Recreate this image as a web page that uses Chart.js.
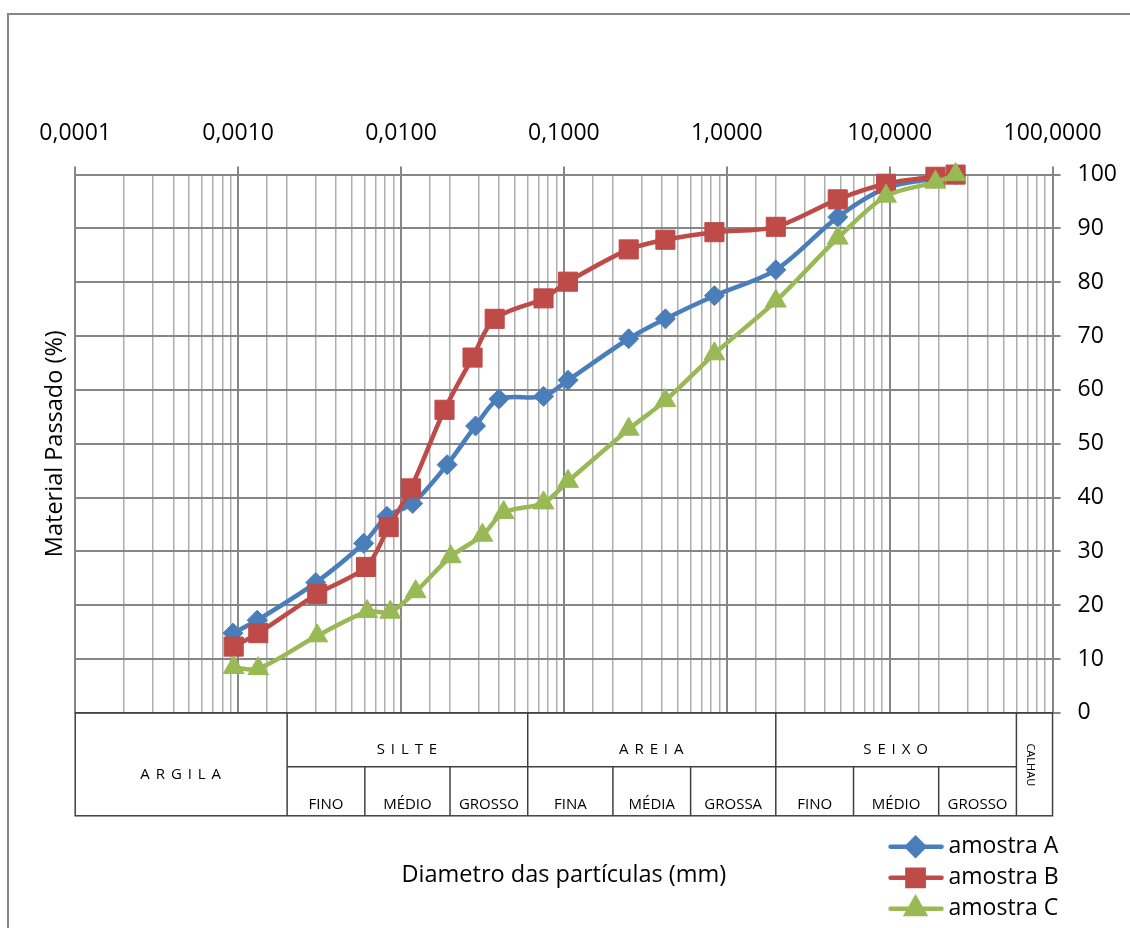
<!DOCTYPE html>
<html lang="pt">
<head>
<meta charset="UTF-8">
<title>Curva granulométrica</title>
<script src="https://cdn.jsdelivr.net/npm/chart.js@4.4.0/dist/chart.umd.min.js"></script>
<style>
    html, body { margin: 0; padding: 0; background: #fff; }
    #wrap { width: 1130px; height: 928px; }
</style>
</head>
<body>
<div id="wrap"><canvas id="granChart" width="1130" height="928"></canvas></div>
<script>
// Sieve / sedimentation diameters (mm) and % passing for each sample
const diamA = [0.00093, 0.00131, 0.0030, 0.0059, 0.0082, 0.0118, 0.0192, 0.0287, 0.0399, 0.075, 0.106, 0.25, 0.42, 0.84, 2.0, 4.8, 9.5, 19.1, 25.4];
const passA = [14.8, 17.2, 24.2, 31.5, 36.5, 38.9, 46.1, 53.3, 58.3, 58.8, 61.8, 69.5, 73.2, 77.5, 82.3, 92.1, 97.5, 99.3, 100];

const diamB = [0.00094, 0.00133, 0.00306, 0.0061, 0.0084, 0.0115, 0.0185, 0.0275, 0.0376, 0.075, 0.106, 0.25, 0.42, 0.84, 2.0, 4.8, 9.5, 19.1, 25.4];
const passB = [12.3, 14.8, 22.1, 27.1, 34.5, 41.7, 56.3, 66.0, 73.2, 77.0, 80.1, 86.1, 87.9, 89.3, 90.3, 95.4, 98.3, 99.6, 100];

const diamC = [0.00094, 0.00133, 0.00306, 0.0062, 0.0086, 0.0123, 0.0202, 0.0316, 0.0427, 0.075, 0.106, 0.25, 0.42, 0.84, 2.0, 4.8, 9.5, 19.1, 25.4];
const passC = [8.4, 8.2, 14.3, 18.8, 18.7, 22.5, 29.0, 33.0, 37.2, 39.0, 43.0, 52.7, 58.0, 66.7, 76.5, 88.2, 96.0, 98.6, 100];

const seriesNames = ['amostra A', 'amostra B', 'amostra C'];

// Classification table under the chart (limits in mm)
const classLimits = [0.0001, 0.002, 0.06, 2, 60, 100];
const classNames = ['A R G I L A', 'S I L T E', 'A R E I A', 'S E I X O', 'CALHAU'];
const subLimits = [0.002, 0.006, 0.02, 0.06, 0.2, 0.6, 2, 6, 20, 60];
const subNames = ['FINO', 'MÉDIO', 'GROSSO', 'FINA', 'MÉDIA', 'GROSSA', 'FINO', 'MÉDIO', 'GROSSO'];

const FONT = "'Open Sans', sans-serif";
Chart.defaults.font.family = FONT;
Chart.defaults.font.size = 23;
Chart.defaults.color = '#000';

function toPoints(xs, ys) {
    return xs.map((x, i) => ({ x: x, y: ys[i] }));
}

function isDecade(v) {
    const lg = Math.log10(v);
    return Math.abs(lg - Math.round(lg)) < 1e-6;
}

function formatMm(v) {
    return v.toFixed(4).replace('.', ',');
}

// Outer chart border (only left and top are inside the picture)
const chartBorder = {
    id: 'chartBorder',
    beforeDraw(chart) {
        const ctx = chart.ctx;
        ctx.save();
        ctx.strokeStyle = '#868686';
        ctx.lineWidth = 2;
        ctx.strokeRect(8, 14, chart.width + 20, chart.height + 20);
        ctx.restore();
    }
};

// Soil classification table drawn against the x scale
const soilTable = {
    id: 'soilTable',
    afterDraw(chart) {
        const { ctx, chartArea } = chart;
        const xs = chart.scales.x;
        const px = v => xs.getPixelForValue(v);
        const top = chartArea.bottom;
        const mid = top + 54;
        const bottom = top + 103;
        const left = px(classLimits[0]);
        const right = px(classLimits[classLimits.length - 1]);

        ctx.save();
        ctx.strokeStyle = '#404040';
        ctx.lineWidth = 1.5;
        ctx.strokeRect(left, top, right - left, bottom - top);

        ctx.beginPath();
        for (let i = 1; i < classLimits.length - 1; i++) {
            ctx.moveTo(px(classLimits[i]), top);
            ctx.lineTo(px(classLimits[i]), bottom);
        }
        ctx.moveTo(px(subLimits[0]), mid);
        ctx.lineTo(px(subLimits[subLimits.length - 1]), mid);
        for (let i = 1; i < subLimits.length - 1; i++) {
            ctx.moveTo(px(subLimits[i]), mid);
            ctx.lineTo(px(subLimits[i]), bottom);
        }
        ctx.stroke();

        ctx.fillStyle = '#000';
        ctx.textAlign = 'center';
        ctx.textBaseline = 'middle';
        ctx.font = '15px ' + FONT;
        ctx.letterSpacing = '1px';

        // argila spans both rows
        ctx.fillText(classNames[0], (px(classLimits[0]) + px(classLimits[1])) / 2, top + 62);
        for (let i = 1; i < 4; i++) {
            ctx.fillText(classNames[i], (px(classLimits[i]) + px(classLimits[i + 1])) / 2, top + 37);
        }
        ctx.letterSpacing = '0px';
        for (let i = 0; i < subNames.length; i++) {
            ctx.fillText(subNames[i], (px(subLimits[i]) + px(subLimits[i + 1])) / 2, top + 92);
        }

        // calhau, rotated
        ctx.save();
        ctx.font = '11px ' + FONT;
        ctx.translate((px(classLimits[4]) + px(classLimits[5])) / 2 - 4, top + 52);
        ctx.rotate(Math.PI / 2);
        ctx.fillText(classNames[4], 0, 0);
        ctx.restore();

        ctx.restore();
    }
};

// Legend stacked in the bottom right corner
const cornerLegend = {
    id: 'cornerLegend',
    afterDraw(chart) {
        const { ctx, chartArea } = chart;
        const x0 = chartArea.right - 164;
        const y0 = chartArea.bottom + 134;
        ctx.save();
        ctx.font = '23px ' + FONT;
        ctx.textBaseline = 'middle';
        ctx.textAlign = 'left';
        chart.data.datasets.forEach((ds, i) => {
            const y = y0 + i * 31;
            ctx.strokeStyle = ds.borderColor;
            ctx.lineWidth = ds.borderWidth;
            ctx.lineCap = 'round';
            ctx.beginPath();
            ctx.moveTo(x0 + 2, y);
            ctx.lineTo(x0 + 53, y);
            ctx.stroke();
            ctx.fillStyle = ds.pointBackgroundColor;
            ctx.strokeStyle = ds.pointBackgroundColor;
            Chart.helpers.drawPoint(ctx, {
                pointStyle: ds.pointStyle,
                radius: ds.pointRadius * 0.85,
                borderWidth: 1,
                rotation: 0
            }, x0 + 27, y);
            ctx.fillStyle = '#000';
            ctx.fillText(ds.label, x0 + 60, y);
        });
        ctx.restore();
    }
};

function makeDataset(label, xs, ys, color, style, radius, order) {
    return {
        label: label,
        data: toPoints(xs, ys),
        showLine: true,
        borderColor: color,
        backgroundColor: color,
        borderWidth: 4.5,
        tension: 0.3,
        pointStyle: style,
        pointRadius: radius,
        pointBackgroundColor: color,
        pointBorderColor: color,
        pointBorderWidth: 1,
        clip: false,
        order: order
    };
}

const granChart = new Chart(document.getElementById('granChart'), {
    type: 'scatter',
    data: {
        datasets: [
            makeDataset(seriesNames[0], diamA, passA, '#4A7EBB', 'rectRot', 10, 2),
            makeDataset(seriesNames[1], diamB, passB, '#BE4B48', 'rect', 13.5, 1),
            makeDataset(seriesNames[2], diamC, passC, '#98B954', 'triangle', 12, 0)
        ]
    },
    options: {
        responsive: false,
        animation: false,
        // axis fit counts tick padding twice, hence the odd numbers here
        layout: { padding: { top: 101, right: -4, left: 20, bottom: 0 } },
        plugins: {
            legend: { display: false },
            tooltip: { enabled: false }
        },
        scales: {
            x: {
                type: 'logarithmic',
                position: 'top',
                min: 0.0001,
                max: 100,
                border: { display: true, color: '#868686', width: 2 },
                grid: {
                    color: c => (c.tick && isDecade(c.tick.value)) ? '#868686' : '#ADADAD',
                    lineWidth: c => (c.tick && isDecade(c.tick.value)) ? 2 : 1.5,
                    tickColor: c => (c.tick && isDecade(c.tick.value)) ? '#868686' : 'rgba(0,0,0,0)',
                    tickLength: 8,
                    tickWidth: 2
                },
                ticks: {
                    autoSkip: false,
                    maxRotation: 0,
                    padding: 19,
                    callback: v => isDecade(v) ? formatMm(v) : ''
                }
            },
            y: {
                position: 'right',
                min: 0,
                max: 100,
                border: { color: '#868686', width: 2 },
                grid: { color: '#868686', lineWidth: 2, tickLength: 8 },
                ticks: { stepSize: 10, padding: 17 }
            },
            yTitle: {
                type: 'linear',
                position: 'left',
                min: 0,
                max: 1,
                grid: { display: false, drawTicks: false },
                border: { display: false },
                ticks: { display: false },
                title: {
                    display: true,
                    text: 'Material Passado (%)',
                    font: { size: 23.5 },
                    padding: { top: 21, bottom: 6 }
                }
            },
            xTitle: {
                type: 'linear',
                position: 'bottom',
                min: 0,
                max: 1,
                grid: { display: false, drawTicks: false },
                border: { display: false },
                ticks: { display: false },
                title: {
                    display: true,
                    text: 'Diametro das partículas (mm)',
                    font: { size: 23.5 },
                    padding: { top: 148, bottom: 39 }
                }
            }
        }
    },
    plugins: [chartBorder, soilTable, cornerLegend]
});
</script>
</body>
</html>
